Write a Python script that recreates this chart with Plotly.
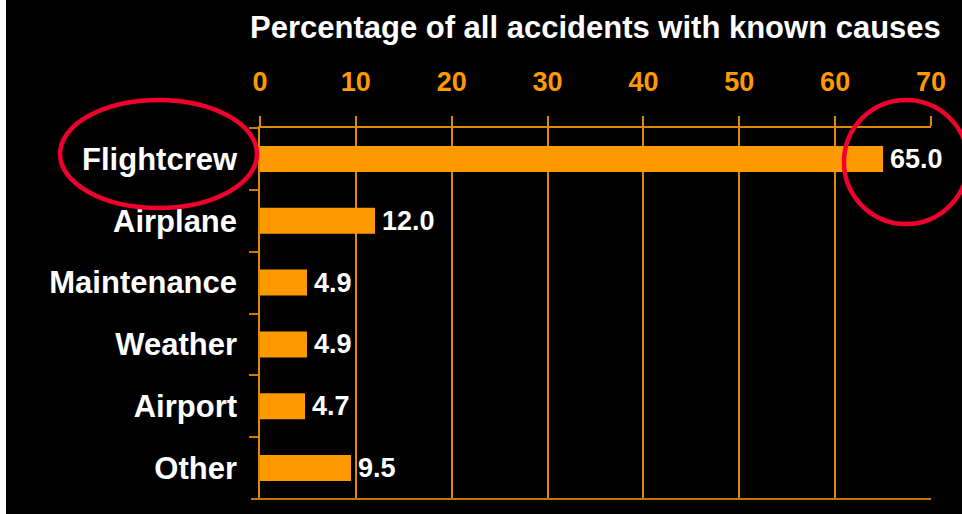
import plotly.graph_objects as go

# Accident causes and their share of all accidents with known causes (%)
causes = ["Flightcrew", "Airplane", "Maintenance", "Weather", "Airport", "Other"]
shares = [65.0, 12.0, 4.9, 4.9, 4.7, 9.5]
x_ticks = [0, 10, 20, 30, 40, 50, 60, 70]

ORANGE = "rgb(255,153,0)"
GRID = "rgb(222,138,6)"
RED = "rgb(240,0,44)"
FONT = "Liberation Sans, Arial, sans-serif"

W, H = 962, 514
L, R, T, B = 260, 31, 128, 15
PW = W - L - R
PH = H - T - B

fig = go.Figure(
    go.Bar(
        x=shares,
        y=causes,
        orientation="h",
        width=0.42,
        marker=dict(color=ORANGE, line=dict(width=0)),
        hoverinfo="x+y",
    )
)

# value labels just right of each bar
for cause, v in zip(causes, shares):
    fig.add_annotation(
        x=v, y=cause, xref="x", yref="y",
        text=f"{v:.1f}", showarrow=False,
        xanchor="left", yanchor="middle", xshift=5,
        font=dict(family=FONT, size=27, color="white", weight="bold"),
    )

fig.update_layout(
    width=W,
    height=H,
    margin=dict(l=L, r=R, t=T, b=B, pad=0),
    paper_bgcolor="black",
    plot_bgcolor="black",
    showlegend=False,
    font=dict(family=FONT, color="white"),
)

fig.update_xaxes(
    side="top",
    range=[0, 70],
    tickvals=x_ticks,
    ticktext=[str(t) for t in x_ticks],
    tickfont=dict(family=FONT, size=27, color=ORANGE, weight="bold"),
    showgrid=True,
    gridcolor=GRID,
    gridwidth=1.5,
    ticks="outside",
    ticklen=10,
    tickcolor=GRID,
    tickwidth=1.5,
    showline=True,
    linecolor=GRID,
    linewidth=1.5,
    zeroline=False,
    ticklabelstandoff=14,
)

fig.update_yaxes(
    type="category",
    categoryorder="array",
    categoryarray=causes,
    range=[len(causes) - 0.5, -0.5],
    tickson="boundaries",
    ticks="outside",
    ticklen=9,
    tickcolor="rgb(205,120,0)",
    tickwidth=1.5,
    showline=True,
    linecolor=GRID,
    linewidth=1.5,
    showgrid=False,
    zeroline=False,
    tickfont=dict(family=FONT, size=31, color="white", weight="bold"),
    ticklabelstandoff=15,
)

shapes = [
    # darker baseline under the bars
    dict(type="line", xref="paper", yref="paper", x0=-9 / PW, x1=1, y0=0, y1=0,
         line=dict(color="rgb(200,117,0)", width=2)),
    # thin white strip along the left edge
    dict(type="rect", xref="paper", yref="paper", x0=-L / PW, x1=(6 - L) / PW,
         y0=-B / PH, y1=(H - B) / PH + T / PH, fillcolor="white", line=dict(width=0),
         layer="above"),
    # highlight around the Flightcrew label
    dict(type="circle", xref="paper", yref="paper",
         x0=(60 - L) / PW, x1=(257 - L) / PW,
         y0=(H - B - 208) / PH, y1=(H - B - 100) / PH,
         line=dict(color=RED, width=4.5), layer="above"),
    # highlight around the 65.0 value
    dict(type="circle", xref="paper", yref="paper",
         x0=(844 - L) / PW, x1=(968 - L) / PW,
         y0=(H - B - 224) / PH, y1=(H - B - 100) / PH,
         line=dict(color=RED, width=4.5), layer="above"),
]
fig.update_layout(shapes=shapes)

fig.add_annotation(
    text="Percentage of all accidents with known causes",
    xref="paper", yref="paper",
    x=0.5, y=(H - B - 27) / PH,
    xanchor="center", yanchor="middle",
    showarrow=False,
    font=dict(family=FONT, size=31, color="white", weight="bold"),
)

fig.write_html("out.html")
